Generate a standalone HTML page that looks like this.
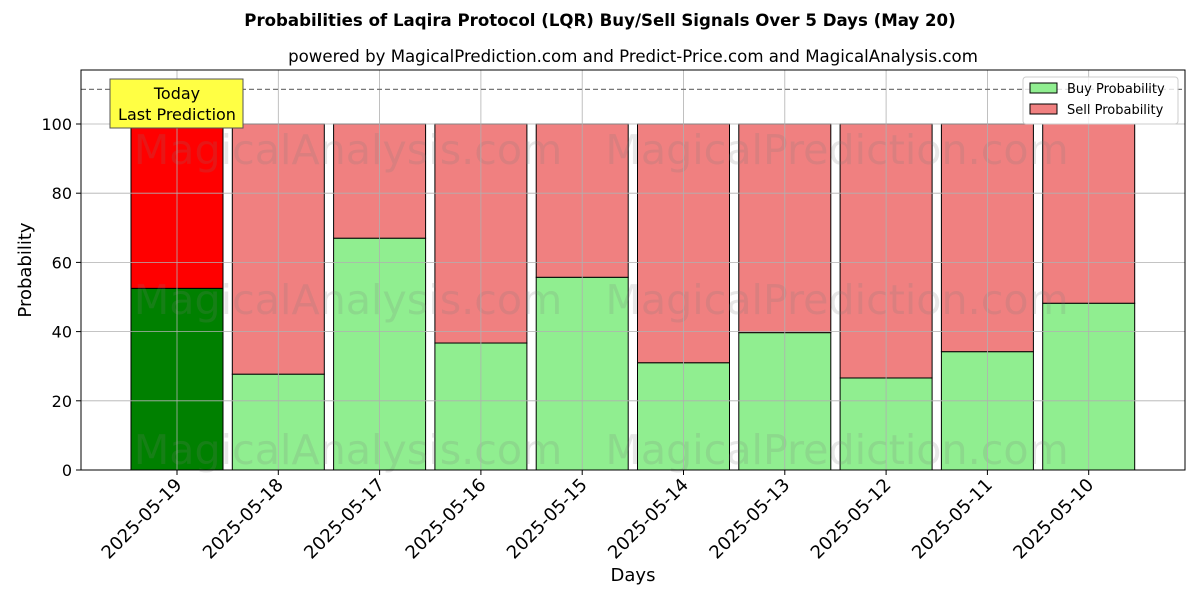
<!DOCTYPE html>
<html><head><meta charset="utf-8"><style>body{margin:0;background:#fff}svg{display:block;font-family:"DejaVu Sans","Liberation Sans",sans-serif}</style></head>
<body>
<svg id="chart" width="1200" height="600"></svg>
<script>
const categories=["2025-05-19","2025-05-18","2025-05-17","2025-05-16","2025-05-15","2025-05-14","2025-05-13","2025-05-12","2025-05-11","2025-05-10"];
const buyValues=[52.5,27.7,67,36.7,55.7,31,39.7,26.6,34.2,48.2];
const yTicks=[0,20,40,60,80,100];
const L=81,R=1185,T=70,B=470;
const xs=i=>177+101.3*i;
const ys=v=>B-v*3.46;
const bw=92;
const svg=document.getElementById('chart');
const NS='http://www.w3.org/2000/svg';
function mk(tag,attrs,parent,text){const e=document.createElementNS(NS,tag);for(const k in attrs)e.setAttribute(k,attrs[k]);if(text!==undefined)e.textContent=text;(parent||svg).appendChild(e);return e;}
let t;
t=mk('text',{x:600,y:26,'text-anchor':'middle','font-size':16.6,'font-weight':'bold'},svg,'Probabilities of Laqira Protocol (LQR) Buy/Sell Signals Over 5 Days (May 20)');


t=mk('text',{x:633,y:62,'text-anchor':'middle','font-size':16.6},svg,'powered by MagicalPrediction.com and Predict-Price.com and MagicalAnalysis.com');


categories.forEach((c,i)=>{
  const b=buyValues[i];
  const r1=mk('rect',{x:xs(i)-bw/2,y:ys(b),width:bw,height:ys(0)-ys(b),fill:i==0?'#008000':'#90ee90',stroke:'#000','stroke-width':1});
  
  
  const r2=mk('rect',{x:xs(i)-bw/2,y:ys(100),width:bw,height:ys(b)-ys(100),fill:i==0?'#ff0000':'#f08080',stroke:'#000','stroke-width':1});
  
  
});
[150,300,450].forEach(y=>{
  t=mk('text',{x:348,y:y+14,'text-anchor':'middle','font-size':41.2,fill:'rgba(120,120,120,0.18)'},svg,'MagicalAnalysis.com');
  
  
  t=mk('text',{x:837,y:y+14,'text-anchor':'middle','font-size':41.2,fill:'rgba(120,120,120,0.18)'},svg,'MagicalPrediction.com');
  
  
});
categories.forEach((c,i)=>{
  const g=mk('line',{x1:xs(i),x2:xs(i),y1:T,y2:B,stroke:'#b0b0b0','stroke-width':0.8});
  
  
  const tk=mk('line',{x1:xs(i),x2:xs(i),y1:B,y2:B+5,stroke:'#000'});
  
  
  const lx=xs(i)-3,ly=B+7;
  t=mk('text',{x:lx,y:ly,'text-anchor':'end','font-size':18,transform:`rotate(-45 ${lx} ${ly})`,dy:'0.7em'},svg,c);
  
  
});
yTicks.forEach(v=>{
  const g=mk('line',{x1:L,x2:R,y1:ys(v),y2:ys(v),stroke:'#b0b0b0','stroke-width':0.8});
  
  
  const tk=mk('line',{x1:L-5,x2:L,y1:ys(v),y2:ys(v),stroke:'#000'});
  
  
  t=mk('text',{x:L-9,y:ys(v)+6,'text-anchor':'end','font-size':16},svg,String(v));
  
  
});
const dl=mk('line',{x1:L,x2:R,y1:ys(110),y2:ys(110),stroke:'#777','stroke-width':1.2,'stroke-dasharray':'5,3'});


const ax=mk('rect',{x:L,y:T,width:R-L,height:B-T,fill:'none',stroke:'#000','stroke-width':1});


const ab=mk('rect',{x:110,y:79,width:133,height:49,fill:'#ffff44',stroke:'#555','stroke-width':1});


t=mk('text',{x:177,y:99,'text-anchor':'middle','font-size':16},svg,'Today');


t=mk('text',{x:177,y:120,'text-anchor':'middle','font-size':16},svg,'Last Prediction');


t=mk('text',{x:633,y:581,'text-anchor':'middle','font-size':18},svg,'Days');


t=mk('text',{x:31,y:270,'text-anchor':'middle','font-size':18,transform:'rotate(-90 31 270)'},svg,'Probability');


const lg=mk('rect',{x:1023,y:77,width:155,height:47,fill:'rgba(255,255,255,0.8)',stroke:'#ccc',rx:3});


[['Buy Probability','#90ee90',89],['Sell Probability','#f08080',110]].forEach(([n,c,y])=>{
  const s=mk('rect',{x:1030,y:y-6,width:27,height:10,fill:c,stroke:'#000','stroke-width':1});
  
  
  t=mk('text',{x:1067,y:y+4,'font-size':13},svg,n);
  
  
});
</script>
</body></html>
